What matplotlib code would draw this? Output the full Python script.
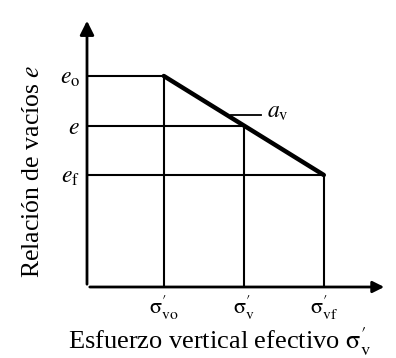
import matplotlib
matplotlib.use("Agg")
import matplotlib.pyplot as plt

plt.rcParams["font.family"] = ["Liberation Serif", "DejaVu Serif"]
plt.rcParams["mathtext.fontset"] = "stix"

# effective vertical stress levels and void ratios
sigma_vals = [0.96, 1.96, 2.96]
sigma_labels = [r"$\mathrm{\sigma}^{\prime}_{\mathrm{vo}}$", r"$\mathrm{\sigma}^{\prime}_{\mathrm{v}}$",
                r"$\mathrm{\sigma}^{\prime}_{\mathrm{vf}}$"]
e_vals = [2.11, 1.61, 1.12]
e_labels = [r"$e_{\mathrm{o}}$", r"$e$", r"$e_{\mathrm{f}}$"]

fig = plt.figure(figsize=(3.96, 3.58), dpi=100)
ax = fig.add_axes([87 / 396, 71 / 358, 300 / 396, 269 / 358])
ax.set_xlim(0, 3.75)
ax.set_ylim(0, 2.69)
for s in ax.spines.values():
    s.set_visible(False)

# axes with arrow heads
ax.annotate("", xy=(3.75, 0), xytext=(0, 0),
            arrowprops=dict(arrowstyle="-|>", lw=2, color="black", mutation_scale=17))
ax.annotate("", xy=(0, 2.69), xytext=(0, 0),
            arrowprops=dict(arrowstyle="-|>", lw=2, color="black", mutation_scale=21))

# guide lines
for s, e in zip(sigma_vals, e_vals):
    ax.plot([0, s], [e, e], color="black", lw=1.5, solid_capstyle="butt")
    ax.plot([s, s], [0, e], color="black", lw=1.5, solid_capstyle="butt")

# compression line
ax.plot([sigma_vals[0], sigma_vals[2]], [e_vals[0], e_vals[2]], color="black", lw=3.2,
        solid_capstyle="round")

# a_v leader
xm = 1.8
ym = e_vals[0] + (e_vals[2] - e_vals[0]) * (xm - sigma_vals[0]) / (sigma_vals[2] - sigma_vals[0])
ax.plot([xm, xm + 0.38], [ym + 0.03, ym + 0.03], color="black", lw=1.3)
ax.text(xm + 0.45, ym + 0.05, r"$a_{\mathrm{v}}$", fontsize=17, va="center", ha="left")

ax.set_xticks(sigma_vals, sigma_labels, fontsize=16)
ax.set_yticks(e_vals, e_labels, fontsize=17)
ax.tick_params(length=0)
ax.tick_params(axis="x", pad=5)
ax.tick_params(axis="y", pad=5)

fig.text(220 / 396, 1 - 342 / 358, r"Esfuerzo vertical efectivo $\mathrm{\sigma}^{\prime}_{\mathrm{v}}$",
         fontsize=19, ha="center", va="center")
fig.text(33 / 396, 1 - 171 / 358, r"Relación de vacíos $e$",
         fontsize=18.5, ha="center", va="center", rotation=90)

fig.savefig("out.png", dpi=100)
